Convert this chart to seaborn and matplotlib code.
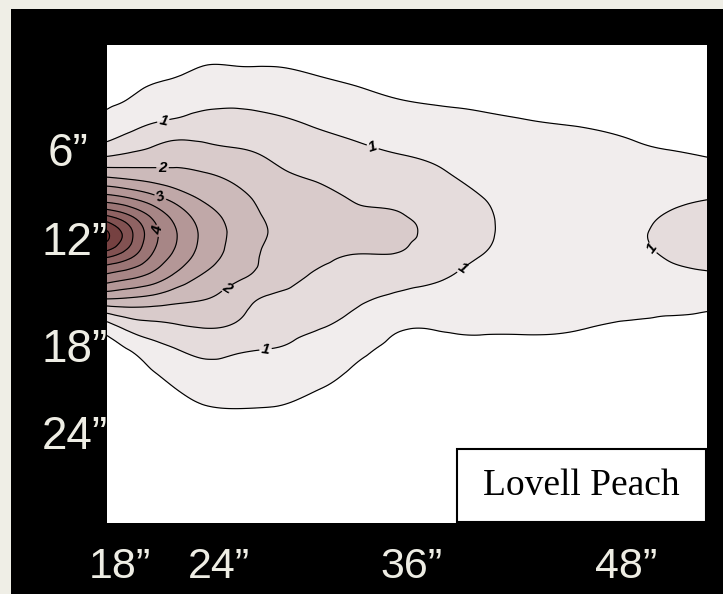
import numpy as np
import matplotlib
matplotlib.use("Agg")
import matplotlib.pyplot as plt
import matplotlib.tri as mtri
from matplotlib.patches import Rectangle
import seaborn as sns

sns.set_theme(style="white")
plt.rcParams["font.family"] = ["Liberation Sans", "DejaVu Sans"]

# Horizontal distance from the trunk (inches) and soil depth (inches)
distance_in = [17.3, 18.5, 20, 21.5, 23, 25, 27, 29.5, 32, 34.5, 37, 39.5, 42, 45, 48, 50.5, 52.8]
depth_in = [0.9, 2.5, 4, 5.5, 7, 8.5, 10, 11, 12.2, 13.4, 14.6, 16, 17.5, 19, 20.5, 22.5, 25, 29.2]

# Root density on the distance x depth grid (one row per depth)
density = [
    [0.10, 0.14, 0.19, 0.25, 0.32, 0.36, 0.37, 0.35, 0.31, 0.28, 0.26, 0.24, 0.22, 0.21, 0.19, 0.17, 0.16],
    [0.22, 0.29, 0.37, 0.45, 0.56, 0.56, 0.55, 0.48, 0.42, 0.38, 0.35, 0.33, 0.31, 0.29, 0.26, 0.24, 0.22],
    [0.40, 0.48, 0.65, 0.75, 0.83, 0.87, 0.83, 0.72, 0.59, 0.49, 0.45, 0.42, 0.39, 0.36, 0.33, 0.30, 0.28],
    [0.64, 0.81, 0.99, 1.09, 1.18, 1.17, 1.10, 0.96, 0.83, 0.71, 0.63, 0.57, 0.52, 0.48, 0.44, 0.40, 0.36],
    [1.19, 1.35, 1.53, 1.68, 1.60, 1.50, 1.39, 1.20, 1.06, 0.95, 0.85, 0.72, 0.64, 0.60, 0.54, 0.49, 0.44],
    [2.30, 2.24, 2.17, 2.10, 2.02, 1.84, 1.60, 1.43, 1.27, 1.17, 1.04, 0.87, 0.74, 0.67, 0.65, 0.70, 0.68],
    [3.76, 3.57, 3.20, 2.79, 2.44, 2.14, 1.82, 1.65, 1.47, 1.39, 1.17, 1.01, 0.80, 0.76, 0.76, 0.90, 0.99],
    [5.00, 4.58, 3.89, 3.26, 2.75, 2.29, 1.92, 1.78, 1.60, 1.53, 1.27, 1.07, 0.82, 0.78, 0.84, 1.03, 1.10],
    [6.10, 5.27, 4.19, 3.48, 2.89, 2.36, 1.97, 1.85, 1.71, 1.58, 1.38, 1.09, 0.83, 0.79, 0.90, 1.10, 1.20],
    [5.10, 4.68, 3.94, 3.32, 2.78, 2.29, 1.88, 1.65, 1.47, 1.46, 1.22, 0.99, 0.80, 0.77, 0.84, 1.03, 1.10],
    [3.86, 3.66, 3.33, 2.84, 2.44, 2.09, 1.79, 1.46, 1.29, 1.18, 1.04, 0.86, 0.72, 0.69, 0.71, 0.87, 0.95],
    [2.42, 2.38, 2.27, 2.10, 2.00, 1.72, 1.40, 1.26, 1.08, 0.89, 0.81, 0.71, 0.64, 0.61, 0.60, 0.63, 0.62],
    [0.82, 1.19, 1.38, 1.48, 1.55, 1.45, 1.19, 1.05, 0.85, 0.56, 0.54, 0.55, 0.54, 0.52, 0.48, 0.45, 0.43],
    [0.35, 0.47, 0.77, 0.98, 1.11, 1.04, 0.98, 0.84, 0.60, 0.41, 0.42, 0.42, 0.42, 0.42, 0.40, 0.38, 0.37],
    [0.20, 0.27, 0.45, 0.63, 0.79, 0.81, 0.76, 0.62, 0.44, 0.33, 0.30, 0.30, 0.30, 0.30, 0.28, 0.27, 0.26],
    [0.12, 0.17, 0.26, 0.36, 0.46, 0.49, 0.48, 0.40, 0.32, 0.26, 0.22, 0.22, 0.22, 0.22, 0.20, 0.19, 0.18],
    [0.08, 0.10, 0.15, 0.22, 0.30, 0.33, 0.33, 0.29, 0.23, 0.18, 0.15, 0.15, 0.15, 0.15, 0.14, 0.13, 0.12],
    [0.05, 0.06, 0.08, 0.12, 0.16, 0.18, 0.18, 0.16, 0.13, 0.10, 0.08, 0.08, 0.08, 0.08, 0.08, 0.07, 0.07],
]

x_tick_labels = ["18\u201d", "24\u201d", "36\u201d", "48\u201d"]
y_tick_labels = ["6\u201d", "12\u201d", "18\u201d", "24\u201d"]
title_text = "Lovell Peach"

# contour label anchors (data coords) for the integer levels
label_spots = [(20.6, 5.25), (33.05, 6.85), (38.4, 14.25), (26.7, 19.1), (49.6, 12.9),
               (20.6, 7.6), (24.5, 15.43), (20.6, 9.5), (20.3, 11.9)]

W, H = 723, 594
fig = plt.figure(figsize=(W / 100, H / 100), dpi=100, facecolor="#efeee6")
fig.add_artist(Rectangle((11 / W, 0), 1 - 11 / W, 1 - 9 / H, transform=fig.transFigure,
                         facecolor="black", edgecolor="none", zorder=0))

ax = fig.add_axes([107 / W, 1 - 523 / H, 600 / W, 478 / H])
ax.set_facecolor("white")

# structured triangulation of the grid, refined with a smooth cubic interpolant
xs = np.array(distance_in)
ys = np.array(depth_in)
gx, gy = np.meshgrid(xs, ys)
nx, ny = len(xs), len(ys)
tris = []
for j in range(ny - 1):
    for i in range(nx - 1):
        a = j * nx + i
        b = a + 1
        c = a + nx
        d = c + 1
        tris.append([a, b, d])
        tris.append([a, d, c])
tri = mtri.Triangulation(gx.ravel(), gy.ravel(), np.array(tris))
refiner = mtri.UniformTriRefiner(tri)
tri_f, z_f = refiner.refine_field(np.array(density).ravel(), subdiv=4)

fill_levels = np.arange(0.5, 6.51, 0.5)
half_levels = [0.5, 1.5, 2.5, 3.5, 4.5, 5.0, 5.5, 6.0]
whole_levels = [1.0, 2.0, 3.0, 4.0]
palette = sns.blend_palette(["#f1eded", "#6a3030"], n_colors=len(fill_levels) - 1)

ax.tricontourf(tri_f, z_f, levels=fill_levels, colors=palette)
ax.tricontour(tri_f, z_f, levels=half_levels, colors="black", linewidths=0.85)
cs = ax.tricontour(tri_f, z_f, levels=whole_levels, colors="black", linewidths=0.85)
labels = cs.clabel(manual=label_spots, fmt="%d", fontsize=11, colors="black",
                   inline=True, inline_spacing=2)
for t in labels:
    t.set_fontweight("bold")
    t.set_fontstyle("italic")

ax.set_xlim(17.3, 52.8)
ax.set_ylim(29.2, 0.9)
ax.set_xticks([])
ax.set_yticks([])
for s in ax.spines.values():
    s.set_visible(False)

# axis labels drawn on the dark frame
txt_color = "#eeede4"
x_label_px = [120, 219, 412, 626]
for lab, px in zip(x_tick_labels, x_label_px):
    fig.text(px / W, 1 - 567 / H, lab, ha="center", va="center", color=txt_color,
             fontsize=31, family=["Liberation Sans", "DejaVu Sans"])
y_label_px = [(68, 154), (75, 243), (75, 350), (75, 437)]
for lab, (px, py) in zip(y_tick_labels, y_label_px):
    fig.text(px / W, 1 - py / H, lab, ha="center", va="center", color=txt_color,
             fontsize=33, family=["Liberation Sans", "DejaVu Sans"])

# name box in the lower right corner of the plot
fig.add_artist(Rectangle((457 / W, 1 - 522 / H), 249 / W, 73 / H, transform=fig.transFigure,
                         facecolor="white", edgecolor="black", linewidth=1.5, zorder=5))
fig.text(581 / W, 1 - 486 / H, title_text, ha="center", va="center", color="black",
         fontsize=27, family=["Liberation Serif", "DejaVu Serif"], zorder=6)

fig.savefig("out.png", dpi=100, facecolor=fig.get_facecolor())
